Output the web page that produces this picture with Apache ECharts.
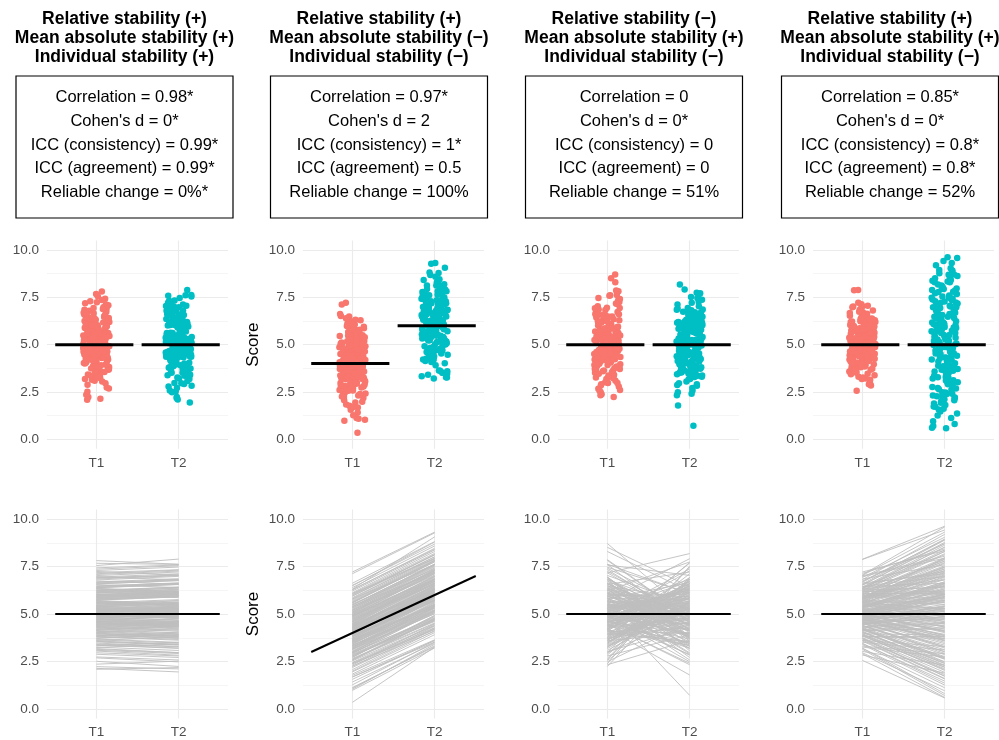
<!DOCTYPE html>
<html>
<head>
<meta charset="utf-8">
<script src="https://cdn.jsdelivr.net/npm/echarts@6/dist/echarts.min.js"></script>
<style>
  html, body { margin: 0; padding: 0; background: #fff; }
  #chart { width: 999px; height: 740px; }
</style>
</head>
<body>
<div id="chart"></div>
<script>
// axis content
const timeLabels = ["T1", "T2"];
const timePos = [1, 2];
const yTicks = [0, 2.5, 5, 7.5, 10];
const yMinor = [1.25, 3.75, 6.25, 8.75];

const headings = [
    "Relative stability (+)\nMean absolute stability (+)\nIndividual stability (+)",
    "Relative stability (+)\nMean absolute stability (\u2212)\nIndividual stability (\u2212)",
    "Relative stability (\u2212)\nMean absolute stability (+)\nIndividual stability (\u2212)",
    "Relative stability (+)\nMean absolute stability (+)\nIndividual stability (\u2212)"
];

const stats = [
    ["Correlation = 0.98*", "Cohen's d = 0*", "ICC (consistency) = 0.99*", "ICC (agreement) = 0.99*", "Reliable change = 0%*"],
    ["Correlation = 0.97*", "Cohen's d = 2", "ICC (consistency) = 1*", "ICC (agreement) = 0.5", "Reliable change = 100%"],
    ["Correlation = 0", "Cohen's d = 0*", "ICC (consistency) = 0", "ICC (agreement) = 0", "Reliable change = 51%"],
    ["Correlation = 0.85*", "Cohen's d = 0*", "ICC (consistency) = 0.8*", "ICC (agreement) = 0.8*", "Reliable change = 52%"]
];

// scores, one entry per person
const p1T1 = [
    4.82, 5.31, 6.12, 3.95, 5.07, 4.46, 7.81, 5.64, 4.21, 5.92,
    3.42, 6.48, 5.18, 4.73, 2.14, 5.55, 6.91, 4.09, 5.36, 4.97,
    6.27, 3.71, 5.02, 4.58, 7.43, 5.81, 3.18, 4.88, 6.03, 5.45,
    4.34, 2.51, 5.71, 6.66, 4.62, 3.86, 5.23, 7.12, 4.95, 5.98,
    3.05, 4.41, 6.35, 5.12, 2.23, 4.77, 5.59, 6.84, 3.58, 5.27,
    4.14, 7.24, 5.86, 4.52, 3.33, 6.19, 5.04, 4.68, 2.96, 5.76,
    6.55, 4.29, 5.41, 3.79, 7.55, 4.91, 5.68, 6.08, 4.03, 3.24,
    5.15, 6.74, 4.45, 2.36, 5.53, 4.86, 6.41, 3.64, 5.33, 7.02,
    4.18, 5.89, 3.91, 6.23, 4.64, 5.09, 2.09, 6.97, 4.37, 5.48,
    3.47, 5.79, 4.99, 6.31, 4.25, 7.36, 3.14, 5.62, 4.81, 6.14,
    5.21, 3.99, 6.59, 4.55, 5.38, 2.74, 5.95, 4.12, 6.88, 5.01,
    3.82, 4.71, 6.44, 5.26, 3.53, 7.18, 4.94, 5.73, 4.31, 6.02,
    2.88, 5.44, 4.61, 6.69, 3.36, 5.17, 4.84, 7.67, 4.06, 5.58,
    6.38, 3.68, 5.11, 4.49, 5.84, 3.09, 6.25, 4.76, 5.29, 4.39,
    5.03, 4.27, 6.17, 3.88, 5.46, 4.69, 6.79, 5.34, 3.61, 5.87,
    4.53, 6.02, 4.92, 3.26, 5.66, 6.47, 4.15, 5.24, 4.78, 7.29,
    3.97, 5.51, 6.33, 4.42, 5.09, 2.69, 5.78, 4.63, 6.58, 5.19,
    4.01, 5.42, 3.74, 6.21, 4.87, 5.61, 4.33, 6.94, 5.06, 4.56,
    3.39, 5.92, 4.71, 6.11, 5.28, 4.19, 7.08, 4.98, 5.73, 3.56,
    6.39, 4.48, 5.14, 4.83, 5.97, 3.83, 6.63, 4.64, 5.37, 4.92
];
const p1T2 = [
    4.95, 5.12, 6.31, 3.78, 5.22, 4.61, 7.62, 5.49, 4.38, 6.11,
    3.27, 6.62, 5.01, 4.90, 1.95, 5.71, 7.05, 3.88, 5.19, 5.14,
    6.08, 3.92, 4.85, 4.41, 7.58, 5.97, 2.97, 5.05, 5.86, 5.63,
    4.52, 2.24, 5.54, 6.81, 4.43, 4.05, 5.41, 7.31, 4.78, 6.17,
    2.83, 4.59, 6.19, 5.29, 2.11, 4.61, 5.76, 7.02, 3.41, 5.09,
    4.31, 7.06, 6.02, 4.36, 3.51, 6.37, 4.87, 4.85, 2.79, 5.93,
    6.39, 4.46, 5.24, 3.62, 7.89, 5.07, 5.51, 6.25, 3.86, 3.42,
    5.31, 6.57, 4.62, 2.52, 5.37, 5.03, 6.58, 3.47, 5.16, 7.21,
    4.01, 6.06, 3.74, 6.41, 4.47, 5.26, 2.18, 6.79, 4.54, 5.31,
    3.29, 5.96, 5.16, 6.13, 4.42, 7.54, 2.96, 5.45, 4.98, 5.97,
    5.38, 3.82, 6.76, 4.38, 5.55, 2.58, 6.12, 3.95, 7.04, 4.84,
    3.99, 4.54, 6.61, 5.09, 3.36, 7.33, 4.77, 5.90, 4.14, 6.19,
    2.71, 5.61, 4.44, 6.86, 3.19, 5.34, 4.67, 7.61, 4.23, 5.41,
    6.55, 3.51, 5.28, 4.32, 6.01, 2.92, 6.42, 4.59, 5.46, 4.22,
    5.21, 4.09, 6.36, 3.71, 5.62, 4.52, 6.98, 5.17, 3.79, 6.04,
    4.36, 6.21, 5.11, 3.08, 5.49, 6.64, 4.33, 5.07, 4.95, 7.47,
    3.81, 5.69, 6.15, 4.59, 4.92, 2.48, 5.96, 4.46, 6.76, 5.36,
    4.18, 5.25, 3.91, 6.04, 5.04, 5.44, 4.51, 7.12, 4.89, 4.73,
    3.21, 6.09, 4.54, 6.29, 5.11, 4.37, 7.26, 4.81, 5.91, 3.39,
    6.56, 4.31, 5.31, 4.66, 6.14, 3.66, 6.81, 4.47, 5.54, 4.75
];

const p2T1 = [
    3.82, 4.41, 5.23, 2.86, 4.07, 3.35, 7.21, 4.73, 3.12, 5.04,
    2.31, 5.67, 4.19, 3.64, 0.98, 4.58, 6.02, 2.97, 4.36, 3.91,
    5.41, 2.58, 4.02, 3.47, 6.48, 4.92, 1.95, 3.79, 5.14, 4.49,
    3.22, 1.42, 4.81, 5.86, 3.54, 2.74, 4.27, 6.27, 3.88, 5.08,
    1.84, 3.31, 5.53, 4.13, 1.09, 3.68, 4.64, 6.07, 2.45, 4.31,
    3.03, 6.51, 4.96, 3.43, 2.18, 5.35, 4.04, 3.59, 1.77, 4.86,
    5.77, 3.17, 4.45, 2.66, 7.12, 3.86, 4.77, 5.19, 2.92, 2.07,
    4.15, 5.94, 3.37, 1.13, 4.61, 3.83, 5.59, 2.53, 4.33, 6.21,
    3.06, 4.98, 2.81, 5.38, 3.56, 4.09, 0.35, 6.12, 3.26, 4.53,
    2.37, 4.89, 3.97, 5.46, 3.14, 6.39, 1.99, 4.69, 3.74, 5.27,
    4.23, 2.89, 5.72, 3.49, 4.38, 1.56, 5.05, 2.99, 5.99, 4.01,
    2.71, 3.62, 5.61, 4.26, 2.42, 6.31, 3.94, 4.84, 3.21, 5.11,
    1.68, 4.47, 3.58, 5.82, 2.24, 4.17, 3.85, 6.62, 2.94, 4.57,
    5.49, 2.61, 4.11, 3.41, 4.93, 1.04, 5.31, 3.73, 4.29, 3.33,
    4.02, 3.27, 5.18, 2.79, 4.46, 3.69, 5.79, 4.34, 2.61, 4.87,
    3.53, 5.02, 3.92, 2.26, 4.66, 5.47, 3.15, 4.24, 3.78, 6.29,
    2.97, 4.51, 5.33, 3.42, 4.09, 1.69, 4.78, 3.63, 5.58, 4.19,
    3.01, 4.42, 2.74, 5.21, 3.87, 4.61, 3.33, 5.94, 4.06, 3.56,
    2.39, 4.92, 3.71, 5.11, 4.28, 3.19, 6.08, 3.98, 4.73, 2.56,
    5.39, 3.48, 4.14, 3.83, 4.97, 2.83, 5.63, 3.64, 4.37, 1.27
];
const p2T2 = [
    5.91, 6.28, 7.41, 4.73, 6.22, 5.19, 9.31, 6.55, 5.29, 7.18,
    4.47, 7.82, 6.03, 5.81, 3.21, 6.74, 8.11, 4.82, 6.49, 5.76,
    7.22, 4.69, 6.18, 5.33, 8.79, 6.84, 4.02, 5.96, 7.01, 6.63,
    5.38, 3.46, 6.72, 7.94, 5.41, 4.87, 6.39, 8.46, 5.72, 7.27,
    3.91, 5.47, 7.36, 6.29, 3.33, 5.51, 6.82, 8.19, 4.38, 6.47,
    5.16, 8.68, 6.81, 5.59, 4.27, 7.52, 5.88, 5.74, 3.64, 6.97,
    7.91, 5.02, 6.61, 4.53, 9.27, 5.71, 6.93, 7.31, 5.08, 4.22,
    6.34, 8.01, 5.23, 3.28, 6.79, 5.69, 7.74, 4.41, 6.48, 8.37,
    5.22, 7.13, 4.66, 7.57, 5.43, 6.21, 3.26, 8.29, 5.41, 6.72,
    4.18, 6.99, 6.12, 7.61, 5.01, 8.58, 4.13, 6.88, 5.87, 7.43,
    6.36, 4.74, 7.86, 5.64, 6.51, 3.62, 7.21, 5.17, 8.13, 6.16,
    4.93, 5.49, 7.78, 6.43, 4.28, 9.06, 6.11, 6.97, 5.38, 7.29,
    3.59, 6.66, 5.42, 8.01, 4.36, 6.32, 5.99, 8.81, 5.13, 6.71,
    7.62, 4.77, 6.27, 5.53, 7.12, 3.41, 7.49, 5.84, 6.43, 5.47,
    6.21, 5.08, 7.34, 4.61, 6.29, 5.88, 7.61, 6.52, 4.49, 6.71,
    5.72, 6.86, 6.13, 4.09, 6.84, 7.63, 5.32, 6.08, 5.97, 8.41,
    4.78, 6.73, 7.18, 5.59, 6.27, 3.52, 6.61, 5.84, 7.76, 6.02,
    5.19, 6.26, 4.91, 7.05, 5.71, 6.83, 5.14, 8.12, 5.89, 5.77,
    4.21, 6.73, 5.92, 7.29, 6.11, 5.38, 7.91, 6.17, 6.57, 4.72,
    7.58, 5.31, 6.35, 5.66, 7.15, 4.64, 7.82, 5.47, 6.59, 3.52
];

const p3T1 = [
    5.12, 4.37, 6.28, 3.81, 5.49, 4.72, 8.71, 5.86, 3.52, 6.04,
    2.91, 6.73, 4.96, 5.33, 2.24, 4.61, 7.41, 4.18, 5.72, 4.88,
    6.52, 3.27, 5.01, 4.45, 7.82, 5.61, 2.67, 4.93, 6.31, 5.24,
    4.06, 2.49, 5.91, 6.95, 4.54, 3.64, 5.39, 7.25, 4.81, 6.12,
    3.09, 4.29, 6.61, 5.17, 2.38, 4.66, 5.54, 7.03, 3.41, 5.28,
    3.97, 7.61, 5.79, 4.41, 3.18, 6.43, 5.06, 4.59, 2.79, 5.96,
    6.86, 4.23, 5.45, 3.72, 8.51, 4.84, 5.66, 6.22, 3.89, 3.33,
    5.19, 6.94, 4.33, 2.56, 5.58, 4.76, 6.67, 3.56, 5.36, 7.34,
    4.12, 6.01, 3.76, 6.39, 4.51, 5.09, 2.33, 7.16, 4.26, 5.42,
    3.46, 5.83, 4.99, 6.47, 4.16, 8.29, 3.02, 5.69, 4.69, 6.17,
    5.27, 3.93, 6.81, 4.49, 5.51, 2.61, 6.07, 4.09, 7.86, 5.03,
    3.69, 4.63, 6.56, 5.21, 3.37, 7.46, 4.91, 5.77, 4.22, 6.09,
    2.84, 5.47, 4.57, 6.77, 3.23, 5.14, 4.79, 7.58, 3.99, 5.63,
    6.36, 3.61, 5.07, 4.43, 5.94, 2.97, 6.24, 4.71, 5.31, 4.35,
    4.97, 5.68, 3.84, 6.24, 4.61, 5.39, 4.18, 6.61, 5.07, 3.46,
    5.83, 4.42, 6.92, 4.73, 5.29, 2.98, 5.52, 4.31, 6.34, 4.86,
    3.71, 5.97, 4.56, 7.17, 5.14, 4.06, 6.48, 4.79, 5.61, 3.28,
    6.11, 4.47, 5.32, 3.92, 5.84, 4.64, 7.62, 4.91, 5.44, 4.23,
    3.59, 6.29, 4.83, 5.71, 4.37, 6.83, 3.77, 5.21, 4.69, 5.93,
    4.13, 6.57, 5.02, 3.63, 5.48, 4.54, 6.16, 4.88, 5.36, 4.01
];
const p3T2 = [
    4.46, 6.12, 3.71, 5.38, 4.83, 6.57, 5.02, 3.29, 5.71, 4.24,
    6.38, 4.91, 2.83, 5.56, 6.84, 3.96, 5.19, 7.68, 4.49, 5.87,
    3.58, 5.27, 6.22, 2.41, 4.77, 5.64, 6.93, 4.13, 3.42, 5.96,
    7.71, 4.56, 5.12, 3.84, 6.31, 5.41, 2.58, 4.86, 6.48, 3.17,
    5.33, 6.71, 4.02, 5.79, 7.52, 3.68, 4.97, 5.47, 6.16, 0.72,
    5.08, 4.32, 6.66, 3.51, 5.62, 4.71, 7.37, 5.24, 3.91, 6.04,
    4.61, 1.79, 5.84, 4.38, 6.44, 3.22, 5.53, 7.74, 4.88, 5.16,
    6.27, 3.77, 4.53, 5.69, 2.96, 6.59, 4.19, 5.31, 6.82, 4.66,
    3.36, 5.91, 7.12, 4.42, 5.01, 6.35, 3.62, 8.18, 4.74, 5.44,
    6.02, 2.71, 4.93, 5.76, 3.48, 6.19, 4.27, 7.91, 5.36, 4.08,
    3.88, 6.53, 5.21, 2.33, 4.59, 6.74, 5.67, 3.99, 4.81, 6.41,
    5.13, 3.31, 7.21, 4.36, 5.58, 6.09, 2.49, 4.96, 5.82, 3.73,
    6.62, 4.51, 5.27, 3.06, 6.86, 4.17, 5.49, 7.03, 3.55, 5.05,
    4.69, 6.24, 3.81, 5.94, 4.44, 7.47, 5.18, 2.87, 6.13, 4.79,
    5.56, 3.91, 6.14, 4.72, 5.33, 3.37, 6.49, 4.58, 5.04, 6.79,
    4.21, 5.71, 3.64, 5.19, 6.27, 4.84, 2.91, 5.46, 4.39, 6.02,
    5.88, 4.11, 6.61, 4.67, 3.86, 5.27, 4.96, 6.38, 3.53, 5.64,
    4.44, 6.91, 5.09, 4.28, 5.77, 3.19, 6.06, 4.76, 5.39, 6.47,
    4.03, 5.52, 7.27, 4.62, 5.84, 3.74, 5.13, 6.71, 4.49, 5.31,
    6.23, 4.87, 3.44, 5.67, 4.16, 6.32, 5.01, 3.97, 5.94, 4.54
];

const p4T1 = [
    4.91, 5.32, 6.02, 4.16, 5.11, 4.58, 7.88, 5.61, 4.34, 5.87,
    3.68, 6.34, 5.19, 4.79, 2.56, 5.51, 6.71, 4.23, 5.38, 5.01,
    6.19, 3.91, 5.06, 4.67, 7.14, 5.76, 3.46, 4.93, 5.96, 5.43,
    4.47, 2.96, 5.67, 6.52, 4.69, 4.03, 5.24, 7.03, 4.98, 5.91,
    3.31, 4.52, 6.26, 5.14, 2.84, 4.82, 5.56, 6.63, 3.81, 5.29,
    4.29, 7.01, 5.81, 4.61, 3.58, 6.11, 5.04, 4.74, 3.19, 5.72,
    6.41, 4.41, 5.42, 3.96, 7.87, 4.94, 5.64, 6.04, 4.18, 3.51,
    5.16, 6.58, 4.54, 2.91, 5.53, 4.87, 6.31, 3.86, 5.34, 6.92,
    4.27, 5.84, 4.06, 6.16, 4.72, 5.09, 3.03, 6.84, 4.44, 5.47,
    3.71, 5.77, 4.99, 6.22, 4.36, 7.21, 3.39, 5.59, 4.84, 6.07,
    5.22, 4.11, 6.46, 4.63, 5.37, 3.26, 5.93, 4.21, 6.74, 5.02,
    3.93, 4.77, 6.36, 5.26, 3.76, 7.06, 4.96, 5.69, 4.39, 5.99,
    3.14, 5.44, 4.64, 6.56, 3.61, 5.17, 4.86, 6.97, 4.14, 5.57,
    6.29, 3.84, 5.12, 4.49, 5.79, 3.44, 6.13, 4.76, 5.31, 4.46,
    5.07, 4.52, 5.86, 4.21, 5.41, 4.74, 6.38, 5.18, 3.88, 5.67,
    4.61, 5.96, 4.93, 3.63, 5.51, 6.24, 4.31, 5.13, 4.86, 6.81,
    4.09, 5.33, 6.06, 4.57, 5.02, 3.21, 5.72, 4.68, 6.44, 5.21,
    4.17, 5.44, 3.96, 6.01, 4.89, 5.58, 4.39, 6.67, 5.04, 4.63,
    3.73, 5.79, 4.79, 5.91, 5.27, 4.26, 6.53, 4.97, 5.63, 3.81,
    6.19, 4.49, 5.16, 4.84, 5.83, 4.04, 6.33, 4.71, 5.37, 4.99
];
const p4T2 = [
    5.62, 4.91, 7.71, 2.62, 6.33, 3.71, 9.62, 5.27, 4.55, 7.94,
    1.74, 8.52, 4.37, 5.88, 0.58, 6.81, 8.91, 2.49, 6.17, 4.06,
    7.78, 2.21, 5.93, 3.58, 8.42, 7.21, 1.36, 4.12, 6.02, 6.69,
    4.88, 0.96, 5.51, 8.77, 5.36, 2.47, 4.69, 9.31, 5.79, 7.48,
    2.91, 3.28, 6.41, 6.12, 1.89, 3.77, 6.93, 7.12, 3.71, 4.59,
    2.86, 8.04, 7.38, 5.21, 1.58, 7.86, 4.32, 5.44, 1.12, 5.61,
    8.62, 3.02, 6.58, 3.89, 9.42, 5.67, 7.06, 6.21, 2.68, 3.11,
    6.03, 8.89, 4.96, 0.61, 5.12, 3.88, 6.79, 2.12, 6.47, 9.04,
    4.51, 7.67, 2.39, 6.44, 3.62, 5.98, 2.31, 7.59, 4.85, 5.02,
    1.81, 7.29, 4.21, 8.12, 3.01, 8.34, 1.26, 6.86, 5.51, 6.08,
    4.62, 4.28, 6.97, 3.44, 6.51, 2.73, 7.54, 2.76, 8.69, 5.86,
    2.19, 5.39, 8.29, 4.76, 1.93, 9.58, 4.09, 7.11, 3.12, 6.15,
    0.71, 6.62, 5.14, 7.23, 3.29, 4.53, 5.73, 7.94, 4.21, 5.29,
    8.17, 2.07, 6.06, 3.36, 7.02, 1.47, 7.96, 3.93, 6.38, 4.81,
    6.02, 3.21, 7.48, 2.64, 6.69, 3.61, 8.51, 4.47, 2.03, 7.17,
    5.29, 5.82, 5.91, 1.61, 4.98, 8.29, 4.74, 6.24, 3.79, 9.19,
    2.41, 6.56, 7.89, 3.27, 4.11, 0.81, 7.28, 5.41, 6.62, 6.31,
    4.42, 4.86, 2.28, 7.79, 3.86, 6.97, 2.93, 8.94, 6.03, 5.27,
    1.72, 7.36, 3.68, 5.71, 6.47, 2.71, 8.71, 5.93, 5.19, 3.82,
    6.21, 5.06, 4.31, 5.72, 7.44, 2.31, 8.37, 3.51, 6.62, 4.02
];

const scoresT1 = [p1T1, p2T1, p3T1, p4T1];
const scoresT2 = [p1T2, p2T2, p3T2, p4T2];

// group means at T1 / T2, and the line through them at x = 0.5 and x = 2.5
const means = [[5, 5], [4, 6], [5, 5], [5, 5]];
const trendEnds = [[5, 5], [3, 7], [5, 5], [5, 5]];

const FONT = '"Liberation Sans", Arial, Helvetica, sans-serif';
const RED = "#F8766D";
const TEAL = "#00BFC4";

const chart = echarts.init(document.getElementById("chart"));

const panelLeft = [47, 303, 558, 813];
const panelW = 181;
const boxCenter = [124.5, 379, 634, 890];

// spread of the jitter, deterministic by index
function jitter(i, g) {
    return (((i * 0.6180339 + g * 0.2719) % 1) - 0.5) * 0.32;
}

function gridMarks() {
    const major = { color: "#EBEBEB", width: 1.1, type: "solid" };
    const minor = { color: "#F1F1F1", width: 0.7, type: "solid" };
    return {
        silent: true,
        symbol: "none",
        z: 1,
        animation: false,
        label: { show: false },
        emphasis: { disabled: true },
        data: [
            ...yTicks.map(v => ({ yAxis: v, lineStyle: major })),
            ...yMinor.map(v => ({ yAxis: v, lineStyle: minor })),
            ...timePos.map(v => ({ xAxis: v, lineStyle: major }))
        ]
    };
}

const grids = [], xAxes = [], yAxes = [], series = [], graphics = [];

for (let row = 0; row < 2; row++) {
    for (let c = 0; c < 4; c++) {
        const g = row * 4 + c;
        grids.push({
            left: panelLeft[c],
            width: panelW,
            top: row === 0 ? 240.5 : 509.5,
            height: row === 0 ? 208.3 : 209
        });
        xAxes.push({
            gridIndex: g,
            type: "value",
            min: 0.4,
            max: 2.6,
            axisLine: { show: false },
            axisTick: { show: false },
            splitLine: { show: false },
            axisLabel: {
                customValues: timePos,
                formatter: v => timeLabels[timePos.indexOf(v)] || "",
                color: "#4D4D4D",
                fontFamily: FONT,
                fontSize: 13.5,
                margin: 7
            }
        });
        yAxes.push({
            gridIndex: g,
            type: "value",
            min: -0.5,
            max: 10.5,
            axisLine: { show: false },
            axisTick: { show: false },
            splitLine: { show: false },
            axisLabel: {
                customValues: yTicks,
                formatter: v => v.toFixed(1),
                color: "#4D4D4D",
                fontFamily: FONT,
                fontSize: 13.5,
                margin: 8
            },
            name: c === 1 ? "Score" : "",
            nameLocation: "middle",
            nameGap: 41,
            nameTextStyle: { color: "#000", fontFamily: FONT, fontSize: 17 }
        });

        const t1 = scoresT1[c], t2 = scoresT2[c];
        if (row === 0) {
            series.push({
                type: "scatter",
                xAxisIndex: g, yAxisIndex: g,
                symbolSize: 6.5,
                itemStyle: { color: RED, opacity: 1 },
                data: t1.map((v, i) => [timePos[0] + jitter(i, c * 2), v]),
                markLine: gridMarks(),
                z: 3
            });
            series.push({
                type: "scatter",
                xAxisIndex: g, yAxisIndex: g,
                symbolSize: 6.5,
                itemStyle: { color: TEAL, opacity: 1 },
                data: t2.map((v, i) => [timePos[1] + jitter(i, c * 2 + 1), v]),
                z: 3
            });
            series.push({
                type: "line",
                xAxisIndex: g, yAxisIndex: g,
                symbol: "none",
                lineStyle: { color: "#000", width: 3 },
                data: [[timePos[0] - 0.5, means[c][0]], [timePos[0] + 0.45, means[c][0]]],
                z: 4
            });
            series.push({
                type: "line",
                xAxisIndex: g, yAxisIndex: g,
                symbol: "none",
                lineStyle: { color: "#000", width: 3 },
                data: [[timePos[1] - 0.45, means[c][1]], [timePos[1] + 0.5, means[c][1]]],
                z: 4
            });
        } else {
            series.push({
                type: "lines",
                coordinateSystem: "cartesian2d",
                xAxisIndex: g, yAxisIndex: g,
                lineStyle: { color: "#BEBEBE", width: 0.9, opacity: 1 },
                data: t1.map((v, i) => ({ coords: [[timePos[0], v], [timePos[1], t2[i]]] })),
                markLine: gridMarks(),
                z: 3
            });
            series.push({
                type: "line",
                xAxisIndex: g, yAxisIndex: g,
                symbol: "none",
                lineStyle: { color: "#000", width: 2 },
                data: [[timePos[0] - 0.5, trendEnds[c][0]], [timePos[1] + 0.5, trendEnds[c][1]]],
                z: 4
            });
        }
    }
}

for (let c = 0; c < 4; c++) {
    graphics.push({
        type: "text",
        style: {
            text: headings[c],
            x: boxCenter[c],
            y: 10,
            textAlign: "center",
            textVerticalAlign: "top",
            font: "bold 17.5px " + FONT,
            lineHeight: 19,
            fill: "#000"
        }
    });
    graphics.push({
        type: "rect",
        shape: { x: boxCenter[c] - 108.5, y: 76, width: 217, height: 142 },
        style: { fill: "#fff", stroke: "#000", lineWidth: 1.2 }
    });
    graphics.push({
        type: "text",
        style: {
            text: stats[c].join("\n"),
            x: boxCenter[c],
            y: 85.5,
            textAlign: "center",
            textVerticalAlign: "top",
            font: "16.5px " + FONT,
            lineHeight: 23.8,
            fill: "#000"
        }
    });
}

chart.setOption({
    backgroundColor: "#fff",
    animation: false,
    grid: grids,
    xAxis: xAxes,
    yAxis: yAxes,
    series: series,
    graphic: graphics
});
</script>
</body>
</html>
